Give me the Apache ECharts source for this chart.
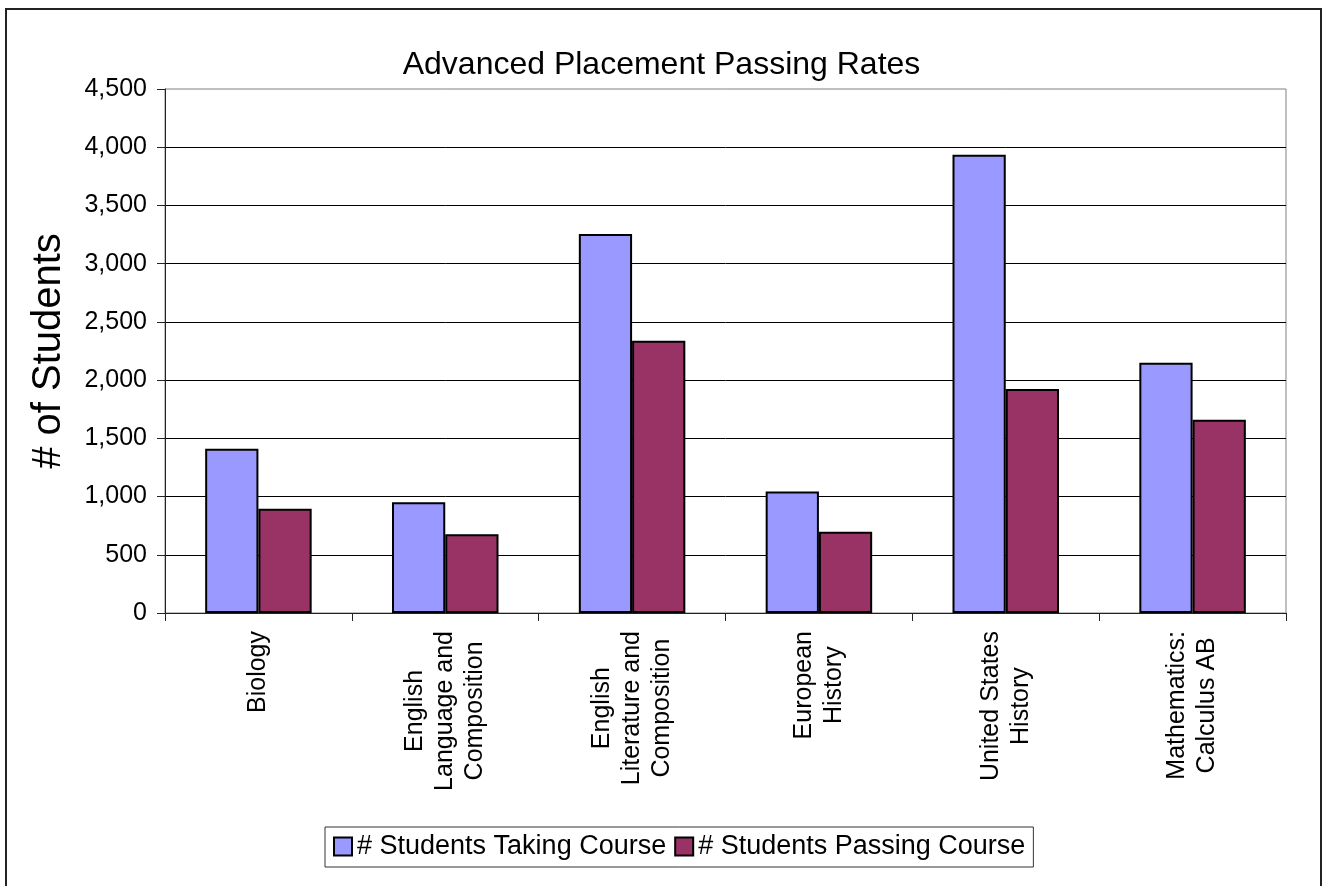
<!DOCTYPE html>
<html>
<head>
<meta charset="utf-8">
<script src="https://cdn.jsdelivr.net/npm/echarts@6/dist/echarts.min.js"></script>
<style>
html, body { margin: 0; padding: 0; background: #fff; }
#chart { width: 1323px; height: 886px; }
</style>
</head>
<body>
<div id="chart"></div>
<script>
const titleText = 'Advanced Placement Passing Rates';
const yAxisName = '# of Students';
const categories = [
  'Biology',
  'English\nLanguage and\nComposition',
  'English\nLiterature and\nComposition',
  'European\nHistory',
  'United States\nHistory',
  'Mathematics:\nCalculus AB'
];
const seriesNames = ['# Students Taking Course', '# Students Passing Course'];
const takingValues = [1410, 952, 3254, 1044, 3935, 2150];
const passingValues = [895, 677, 2339, 698, 1924, 1659];
const yTicks = { min: 0, max: 4500, interval: 500 };

const FONT = '"Liberation Sans", Arial, sans-serif';
const chart = echarts.init(document.getElementById('chart'), null, { renderer: 'canvas' });

chart.setOption({
  backgroundColor: '#fff',
  animation: false,
  title: {
    text: titleText,
    left: 'center',
    top: 44,
    textStyle: { fontFamily: FONT, fontSize: 32, fontWeight: 'normal', color: '#000' }
  },
  graphic: [{
    type: 'rect',
    shape: { x: 6, y: 9, width: 1315, height: 900 },
    style: { fill: 'none', stroke: '#222', lineWidth: 2 },
    silent: true
  }],
  grid: {
    left: 165, right: 37, top: 89, bottom: 273,
    show: true, borderColor: '#808080', borderWidth: 1, backgroundColor: 'transparent'
  },
  legend: {
    data: seriesNames,
    left: 325,
    top: 827,
    orient: 'horizontal',
    itemWidth: 18,
    itemHeight: 18,
    itemGap: 8,
    padding: [6, 8, 7, 8],
    borderColor: '#333',
    borderWidth: 1,
    icon: 'rect',
    textStyle: { fontFamily: FONT, fontSize: 27, color: '#000' },
    itemStyle: { borderColor: '#000', borderWidth: 2 }
  },
  xAxis: {
    type: 'category',
    data: categories,
    axisLine: { show: true, lineStyle: { color: '#222', width: 1 } },
    axisTick: { show: true, alignWithLabel: false, length: 8, inside: false, lineStyle: { color: '#222' } },
    axisLabel: {
      interval: 0,
      rotate: 90,
      margin: 18,
      color: '#000',
      fontFamily: FONT,
      fontSize: 25,
      lineHeight: 30,
      formatter: function (v) {
        return v.split('\n').map(function (s) { return '{c|' + s + '}'; }).join('\n');
      },
      rich: {
        c: { align: 'center', fontFamily: FONT, fontSize: 25, lineHeight: 30, color: '#000' }
      }
    },
    splitLine: { show: false }
  },
  yAxis: {
    type: 'value',
    min: yTicks.min,
    max: yTicks.max,
    interval: yTicks.interval,
    name: yAxisName,
    nameLocation: 'middle',
    nameGap: 96,
    nameRotate: 90,
    nameTextStyle: { fontFamily: FONT, fontSize: 40, color: '#000' },
    axisLine: { show: true, lineStyle: { color: '#222', width: 1 } },
    axisTick: { show: true, length: 8, inside: false, lineStyle: { color: '#222' } },
    axisLabel: {
      margin: 18,
      color: '#000',
      fontFamily: FONT,
      fontSize: 25,
      formatter: function (v) { return v.toLocaleString('en-US'); }
    },
    splitLine: { show: true, showMinLine: false, showMaxLine: false, lineStyle: { color: '#000', width: 1 } }
  },
  series: [
    {
      name: seriesNames[0],
      type: 'bar',
      data: takingValues,
      barGap: '0%',
      barCategoryGap: '43%',
      itemStyle: { color: '#9999FF', borderColor: '#000', borderWidth: 2 }
    },
    {
      name: seriesNames[1],
      type: 'bar',
      data: passingValues,
      barGap: '0%',
      barCategoryGap: '43%',
      itemStyle: { color: '#993366', borderColor: '#000', borderWidth: 2 }
    }
  ]
});
</script>
</body>
</html>
